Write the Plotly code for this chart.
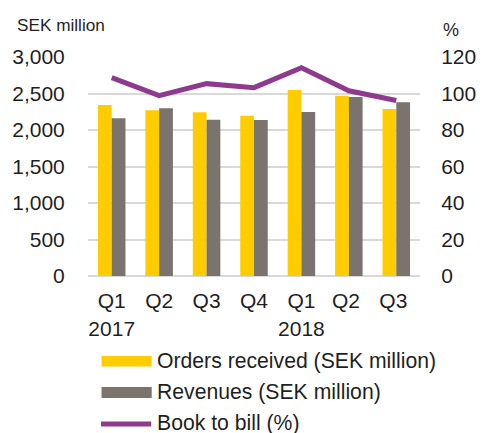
import plotly.graph_objects as go

quarters = ["Q1<br>2017", "Q2", "Q3", "Q4", "Q1<br>2018", "Q2 ", "Q3 "]
orders = [2343, 2270, 2242, 2196, 2548, 2470, 2288]
revenues = [2160, 2297, 2141, 2137, 2247, 2452, 2379]
book_to_bill = [108.7, 98.8, 105.4, 103.2, 114.1, 101.5, 96.2]

y_ticks = [0, 500, 1000, 1500, 2000, 2500, 3000]
y_tick_text = ["0", "500", "1,000", "1,500", "2,000", "2,500", "3,000"]
y2_ticks = [0, 20, 40, 60, 80, 100, 120]

legend_names = ["Orders received (SEK million)", "Revenues (SEK million)", "Book to bill (%)"]

YELLOW = "#FFCC00"
GREY = "#7A736E"
PURPLE = "#8E3A8E"
TXT = "#1f1f1f"
FONT = "Liberation Sans, Arial, sans-serif"
FS = 21

fig = go.Figure()
fig.add_trace(go.Bar(x=quarters, y=orders, name=legend_names[0], marker=dict(color=YELLOW, line=dict(width=0)), yaxis="y"))
fig.add_trace(go.Bar(x=quarters, y=revenues, name=legend_names[1], marker=dict(color=GREY, line=dict(width=0)), yaxis="y"))
fig.add_trace(go.Scatter(x=quarters, y=book_to_bill, name=legend_names[2], mode="lines",
                         line=dict(color=PURPLE, width=5), yaxis="y2"))

fig.update_layout(
    width=488, height=433,
    margin=dict(l=88, r=56, t=57, b=157),
    paper_bgcolor="white", plot_bgcolor="white",
    showlegend=False,
    barmode="group", bargap=0.42, bargroupgap=0,
    font=dict(family=FONT, size=FS, color=TXT),
    xaxis=dict(type="category", showgrid=False, showline=False, zeroline=False,
               ticks="outside", ticklen=6, tickcolor="rgba(0,0,0,0)",
               tickfont=dict(size=FS, color=TXT)),
    yaxis=dict(range=[0, 3000], tickvals=y_ticks, ticktext=y_tick_text,
               showgrid=True, gridcolor="#D9D9D9", gridwidth=1.5,
               zeroline=True, zerolinecolor="#D9D9D9", zerolinewidth=2,
               ticks="outside", ticklen=18, tickcolor="rgba(0,0,0,0)",
               tickfont=dict(size=FS, color=TXT), showline=False),
    yaxis2=dict(range=[0, 120], tickvals=y2_ticks, overlaying="y", side="right",
                showgrid=False, zeroline=False, showline=False,
                ticks="outside", ticklen=16, tickcolor="rgba(0,0,0,0)",
                tickfont=dict(size=FS, color=TXT)),
)

pw = 488 - 88 - 56
ph = 433 - 57 - 157
def px(xp):
    return (xp - 88) / pw
def py(yp):
    return (433 - 157 - yp) / ph

anns = []
anns.append(dict(text="SEK million", x=px(12), y=py(25), xref="paper", yref="paper",
                 xanchor="left", yanchor="middle", showarrow=False, font=dict(size=17.2, color=TXT)))
anns.append(dict(text="%", x=px(464), y=py(30), xref="paper", yref="paper",
                 xanchor="center", yanchor="middle", showarrow=False, font=dict(size=18, color=TXT)))

legend_y = [360.5, 392, 422.5]
shapes = []
shapes.append(dict(type="rect", xref="paper", yref="paper", x0=px(102), x1=px(154),
                   y0=py(366.5), y1=py(356), fillcolor=YELLOW, line=dict(width=0)))
shapes.append(dict(type="rect", xref="paper", yref="paper", x0=px(102), x1=px(154),
                   y0=py(398), y1=py(387), fillcolor=GREY, line=dict(width=0)))
shapes.append(dict(type="line", xref="paper", yref="paper", x0=px(101.5), x1=px(153.5),
                   y0=py(424), y1=py(424), line=dict(color=PURPLE, width=5)))
for name, yy in zip(legend_names, legend_y):
    anns.append(dict(text=name, x=px(158), y=py(yy), xref="paper", yref="paper",
                     xanchor="left", yanchor="middle", showarrow=False, borderpad=0,
                     font=dict(size=21.2, color=TXT)))

fig.update_layout(annotations=anns, shapes=shapes)
fig.write_html("out.html", config={"displayModeBar": False},
               post_script="document.body.style.margin='0';document.body.style.overflow='hidden';")
